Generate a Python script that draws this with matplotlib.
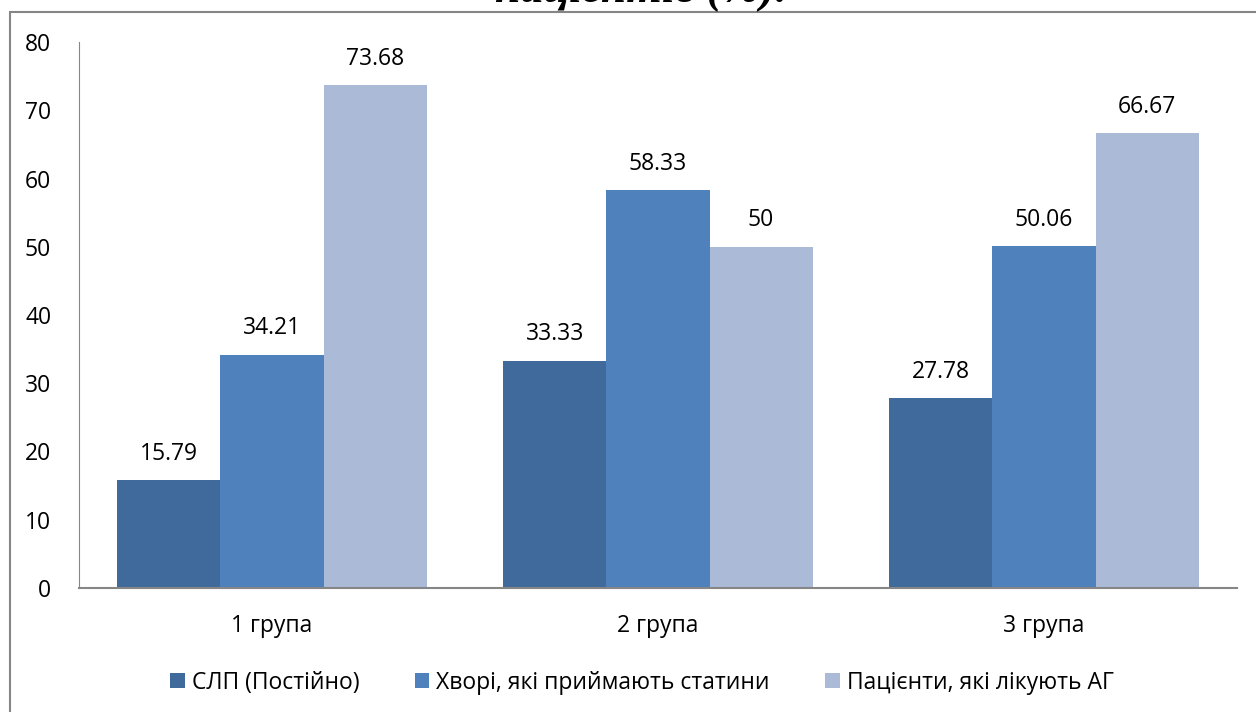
import matplotlib
matplotlib.use('Agg')
import matplotlib.pyplot as plt
import numpy as np
from matplotlib.patches import Rectangle

groups = ['1 група', '2 група', '3 група']
series_names = ['СЛП (Постійно)', 'Хворі, які приймають статини', 'Пацієнти, які лікують АГ']
slp = [15.79, 33.33, 27.78]
statins = [34.21, 58.33, 50.06]
ag = [73.68, 50, 66.67]
colors = ['#3F6A9B', '#4F81BD', '#AABAD7']

plt.rcParams['font.family'] = ['Open Sans', 'DejaVu Sans']
fs = 16.5

fig = plt.figure(figsize=(12.56, 7.12), dpi=100)
ax = fig.add_axes([79/1256, 1-588/712, (1237-79)/1256, (588-42)/712])

x = np.arange(len(groups))
w = 0.267
for i, (vals, name, c) in enumerate(zip([slp, statins, ag], series_names, colors)):
    bars = ax.bar(x + (i-1)*w, vals, w, color=c, label=name)
    for b, v in zip(bars, vals):
        ax.annotate(f'{v:g}', (b.get_x()+b.get_width()/2, v), xytext=(0, 19),
                    textcoords='offset points', ha='center', va='center', fontsize=fs)

ax.set_xlim(-0.5, 2.5)
ax.set_ylim(0, 80)
ax.set_yticks(range(0, 81, 10))
ax.set_xticks(x)
ax.set_xticklabels(groups)
ax.tick_params(axis='both', length=0, labelsize=fs)
ax.tick_params(axis='y', pad=20)
ax.tick_params(axis='x', pad=19)
for s in ['top', 'right']:
    ax.spines[s].set_visible(False)
ax.spines['left'].set_color('#868686')
ax.spines['bottom'].set_color('#868686')
ax.spines['bottom'].set_linewidth(1.5)

leg = fig.legend(loc='center', bbox_to_anchor=(0.511, 0.041), ncol=3, frameon=False,
                 fontsize=fs, handlelength=0.65, handleheight=0.65, handletextpad=0.3,
                 columnspacing=2.4)

# outer chart border
fig.patches.append(Rectangle((10/1256, -0.05), 1.1, 1.05-12/712, transform=fig.transFigure,
                             fill=False, edgecolor='#868686', linewidth=1.5))

# heading from the page above, cut at the top edge
fig.text(0.51, 1-2/712, 'пацієнтів (%).', ha='center', va='baseline', fontsize=33,
         family='Liberation Serif', style='italic', weight='bold')

fig.savefig('out.png', dpi=100)
